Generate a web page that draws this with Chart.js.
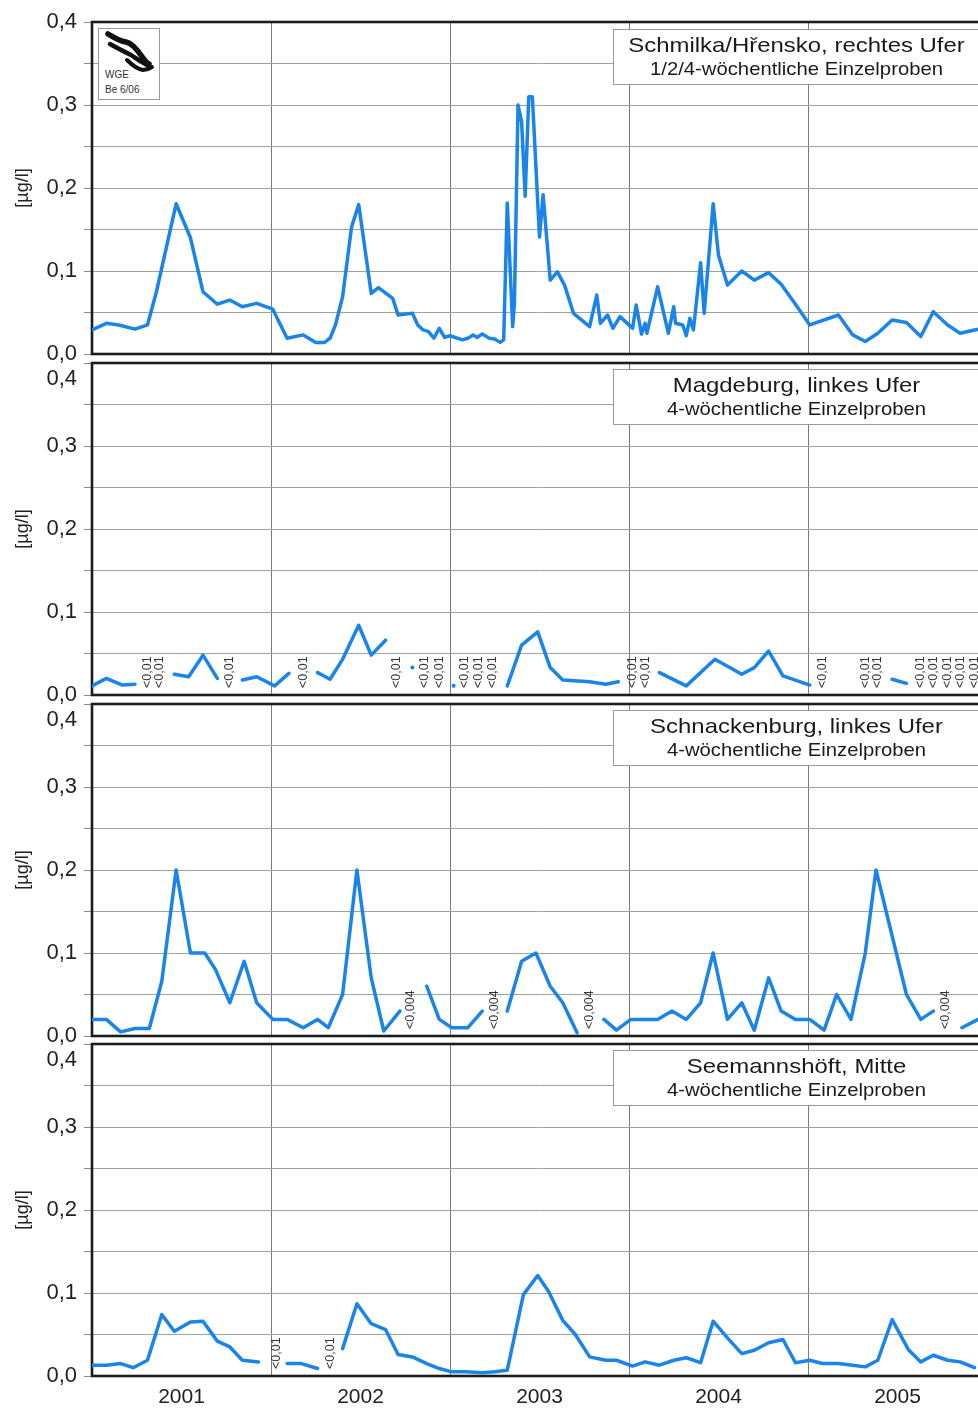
<!DOCTYPE html>
<html lang="de">
<head>
<meta charset="utf-8">
<title>Elbe – Einzelproben 2001–2005</title>
<script src="https://cdn.jsdelivr.net/npm/chart.js@4.4.1/dist/chart.umd.min.js"></script>
<style>
  html, body { margin: 0; padding: 0; background: #fff; overflow: hidden; }
  #page { position: relative; width: 1000px; height: 1410px; }
  #page canvas { position: absolute; left: 0; top: 0; }
  .station {
    position: absolute; left: 613px; width: 367px; height: 56px; box-sizing: border-box;
    border: 1px solid #9a9a9a; background: #fff; z-index: 2; text-align: center;
    font-family: 'Liberation Sans', Arial, sans-serif; color: #1a1a1a;
  }
  .station .name { font-size: 21px; line-height: 24px; margin-top: 3px; transform: scaleX(1.14); white-space: nowrap; }
  .station .mode { font-size: 17.8px; line-height: 22px; margin-top: 1px; transform: scaleX(1.14); white-space: nowrap; }
  #logo {
    position: absolute; left: 98px; top: 28px; width: 62px; height: 72px; box-sizing: border-box;
    border: 1px solid #9a9a9a; background: #fff; z-index: 2;
  }
</style>
</head>
<body>
<div id="page">
  <canvas id="p1" width="1000" height="1410"></canvas>
  <canvas id="p2" width="1000" height="1410"></canvas>
  <canvas id="p3" width="1000" height="1410"></canvas>
  <canvas id="p4" width="1000" height="1410"></canvas>

  <div id="logo">
    <svg width="60" height="70" viewBox="0 0 60 70">
      <g fill="none" stroke="#111" stroke-linecap="round" stroke-linejoin="round">
        <path d="M9 5 C14 8 20 12 27 13 C33 14 38 20 44 29 C46 32 48 34 50 35" stroke-width="5.5"/>
        <path d="M11 15 C18 19 26 23 32 26 C38 30 42 33 48 36" stroke-width="4.5"/>
        <path d="M28 31 C33 36 38 40 44 41 C47 41 50 40 53 38" stroke-width="4"/>
      </g>
      <text x="6" y="49" font-family="'Liberation Sans', Arial, sans-serif" font-size="10" fill="#333">WGE</text>
      <text x="6" y="64" font-family="'Liberation Sans', Arial, sans-serif" font-size="10" fill="#333">Be 6/06</text>
    </svg>
  </div>

  <div class="station" style="top:29px"><div class="name">Schmilka/Hřensko, rechtes Ufer</div><div class="mode">1/2/4-wöchentliche Einzelproben</div></div>
  <div class="station" style="top:369px"><div class="name">Magdeburg, linkes Ufer</div><div class="mode">4-wöchentliche Einzelproben</div></div>
  <div class="station" style="top:710px"><div class="name">Schnackenburg, linkes Ufer</div><div class="mode">4-wöchentliche Einzelproben</div></div>
  <div class="station" style="top:1050px"><div class="name">Seemannshöft, Mitte</div><div class="mode">4-wöchentliche Einzelproben</div></div>
</div>

<script>
// Axis labelling
const years = [2001, 2002, 2003, 2004, 2005];
const yTickLabels = ['0,0', '0,1', '0,2', '0,3', '0,4'];
const unitLabel = '[µg/l]';

// Schmilka/Hřensko – sampling date (decimal year) and concentration in µg/l
const schmilkaDates = [
  2001.00, 2001.08, 2001.15, 2001.24, 2001.31, 2001.36, 2001.47, 2001.55, 2001.62, 2001.70, 2001.77, 2001.84, 2001.92,
  2002.01, 2002.09, 2002.18, 2002.25, 2002.30, 2002.33, 2002.36, 2002.40, 2002.45, 2002.49, 2002.56, 2002.60, 2002.68,
  2002.71, 2002.79, 2002.82, 2002.85, 2002.88, 2002.91, 2002.94, 2002.97,
  2003.00, 2003.07, 2003.10, 2003.13, 2003.15, 2003.18, 2003.22, 2003.25, 2003.28, 2003.30, 2003.32, 2003.35, 2003.36,
  2003.38, 2003.40, 2003.42, 2003.44, 2003.46, 2003.50, 2003.52, 2003.56, 2003.60, 2003.64, 2003.69, 2003.78, 2003.82,
  2003.84, 2003.88, 2003.91, 2003.95,
  2004.01, 2004.02, 2004.04, 2004.07, 2004.09, 2004.10, 2004.16, 2004.22, 2004.25, 2004.26, 2004.30, 2004.32, 2004.34,
  2004.36, 2004.40, 2004.42, 2004.47, 2004.50, 2004.55, 2004.63, 2004.70, 2004.78, 2004.85, 2004.92,
  2005.01, 2005.17, 2005.25, 2005.32, 2005.39, 2005.47, 2005.55, 2005.63, 2005.70, 2005.78, 2005.85, 2005.93, 2005.99
];
const schmilkaValues = [
  0.029, 0.037, 0.035, 0.030, 0.035, 0.075, 0.181, 0.140, 0.075, 0.060, 0.065, 0.057, 0.061,
  0.054, 0.019, 0.023, 0.014, 0.014, 0.019, 0.035, 0.069, 0.153, 0.180, 0.073, 0.080, 0.067,
  0.047, 0.049, 0.035, 0.029, 0.027, 0.019, 0.031, 0.020,
  0.022, 0.017, 0.019, 0.023, 0.020, 0.024, 0.019, 0.018, 0.014, 0.017, 0.182, 0.033, 0.061,
  0.300, 0.280, 0.190, 0.310, 0.310, 0.141, 0.192, 0.089, 0.099, 0.083, 0.049, 0.033, 0.071,
  0.037, 0.047, 0.031, 0.045,
  0.033, 0.031, 0.059, 0.024, 0.037, 0.025, 0.081, 0.025, 0.057, 0.037, 0.035, 0.022, 0.043,
  0.029, 0.110, 0.049, 0.181, 0.119, 0.083, 0.100, 0.089, 0.098, 0.084, 0.063,
  0.035, 0.047, 0.023, 0.015, 0.025, 0.041, 0.038, 0.021, 0.051, 0.035, 0.025, 0.029, 0.031
];

// Magdeburg
const magdeburgDates = [
  2001.00, 2001.08, 2001.17, 2001.24, 2001.46, 2001.54, 2001.62, 2001.70, 2001.84, 2001.92,
  2002.02, 2002.10, 2002.26, 2002.33, 2002.40, 2002.49, 2002.56, 2002.64, 2002.79,
  2003.02, 2003.32, 2003.40, 2003.49, 2003.56, 2003.63, 2003.78, 2003.87, 2003.94,
  2004.17, 2004.32, 2004.48, 2004.63, 2004.70, 2004.78, 2004.86,
  2005.01, 2005.47, 2005.55
];
const magdeburgValues = [
  0.011, 0.020, 0.012, 0.013, 0.025, 0.022, 0.048, 0.020, 0.018, 0.022,
  0.011, 0.026, 0.027, 0.019, 0.043, 0.084, 0.048, 0.066, 0.033,
  0.011, 0.011, 0.060, 0.076, 0.033, 0.018, 0.016, 0.013, 0.016,
  0.027, 0.011, 0.043, 0.025, 0.033, 0.053, 0.023,
  0.012, 0.019, 0.014
];
const magdeburgBelowLimit = [
  2001.31, 2001.38, 2001.77, 2002.18, 2002.70, 2002.86, 2002.94, 2003.08, 2003.16, 2003.24,
  2004.02, 2004.09, 2005.08, 2005.32, 2005.39, 2005.63, 2005.70, 2005.78, 2005.85, 2005.93
];

// Schnackenburg
const schnackenburgDates = [
  2001.00, 2001.08, 2001.16, 2001.24, 2001.32, 2001.39, 2001.47, 2001.55, 2001.63, 2001.69, 2001.77, 2001.85, 2001.92,
  2002.01, 2002.09, 2002.18, 2002.26, 2002.32, 2002.40, 2002.48, 2002.56, 2002.63, 2002.72, 2002.87, 2002.94,
  2003.01, 2003.10, 2003.18, 2003.32, 2003.40, 2003.48, 2003.56, 2003.63, 2003.71, 2003.86, 2003.93,
  2004.01, 2004.09, 2004.16, 2004.24, 2004.32, 2004.40, 2004.47, 2004.55, 2004.63, 2004.70, 2004.78, 2004.85, 2004.93,
  2005.01, 2005.09, 2005.16, 2005.24, 2005.32, 2005.38, 2005.55, 2005.63, 2005.70, 2005.86, 2005.95
];
const schnackenburgValues = [
  0.020, 0.020, 0.005, 0.009, 0.009, 0.066, 0.200, 0.100, 0.100, 0.080, 0.040, 0.090, 0.040,
  0.020, 0.020, 0.010, 0.020, 0.010, 0.050, 0.200, 0.070, 0.006, 0.030, 0.060, 0.020,
  0.010, 0.010, 0.030, 0.030, 0.090, 0.100, 0.060, 0.040, 0.004, 0.020, 0.007,
  0.020, 0.020, 0.020, 0.030, 0.020, 0.040, 0.100, 0.020, 0.040, 0.007, 0.070, 0.030, 0.020,
  0.020, 0.007, 0.050, 0.020, 0.100, 0.200, 0.050, 0.020, 0.030, 0.010, 0.020
];
const schnackenburgBelowLimit = [2002.78, 2003.25, 2003.78, 2005.77];

// Seemannshöft
const seemannshoeftDates = [
  2001.00, 2001.08, 2001.16, 2001.23, 2001.31, 2001.39, 2001.46, 2001.55, 2001.62, 2001.70, 2001.77, 2001.84, 2001.93,
  2002.09, 2002.17, 2002.26, 2002.40, 2002.48, 2002.56, 2002.64, 2002.71, 2002.79, 2002.87, 2002.94,
  2003.01, 2003.09, 2003.18, 2003.25, 2003.32, 2003.41, 2003.49, 2003.55, 2003.63, 2003.70, 2003.78, 2003.87, 2003.93,
  2004.02, 2004.09, 2004.17, 2004.25, 2004.32, 2004.40, 2004.47, 2004.55, 2004.63, 2004.70, 2004.78, 2004.86, 2004.93,
  2005.01, 2005.08, 2005.17, 2005.25, 2005.32, 2005.39, 2005.47, 2005.56, 2005.63, 2005.70, 2005.78, 2005.85, 2005.93
];
const seemannshoeftValues = [
  0.013, 0.013, 0.015, 0.010, 0.019, 0.074, 0.054, 0.065, 0.066, 0.042, 0.035, 0.019, 0.017,
  0.015, 0.015, 0.009, 0.033, 0.087, 0.063, 0.056, 0.026, 0.023, 0.015, 0.009,
  0.005, 0.005, 0.004, 0.005, 0.007, 0.098, 0.121, 0.102, 0.067, 0.050, 0.023, 0.019, 0.019,
  0.012, 0.017, 0.013, 0.019, 0.022, 0.016, 0.066, 0.046, 0.027, 0.031, 0.040, 0.044, 0.016,
  0.019, 0.015, 0.015, 0.013, 0.011, 0.019, 0.068, 0.032, 0.017, 0.025, 0.019, 0.017, 0.010
];
const seemannshoeftBelowLimit = [2002.03, 2002.33];

const FONT = "'Liberation Sans', Arial, sans-serif";
const LINE_BLUE = '#1a84e8';
Chart.defaults.font.family = FONT;
Chart.defaults.color = '#222';

// Frame around each plot, "<limit" notes at censored samples, lowered top label
const panelDecor = {
  id: 'panelDecor',
  beforeDatasetsDraw(chart) {
    const { ctx, chartArea: a } = chart;
    ctx.save();
    ctx.strokeStyle = '#1c1c1c';
    ctx.lineWidth = 2.6;
    ctx.strokeRect(a.left, a.top, a.right - a.left, a.bottom - a.top);
    ctx.restore();
  },
  afterDatasetsDraw(chart, args, opts) {
    const { ctx, chartArea: a, scales } = chart;
    ctx.save();
    ctx.fillStyle = '#333';
    ctx.font = '12.5px ' + FONT;
    ctx.textAlign = 'left';
    ctx.textBaseline = 'middle';
    (opts.belowLimit || []).forEach(d => {
      const x = scales.x.getPixelForValue(d);
      ctx.save();
      ctx.translate(x, a.bottom - 7);
      ctx.rotate(-Math.PI / 2);
      ctx.fillText(opts.limitText, 0, 0);
      ctx.restore();
    });
    if (opts.lowerTopLabel) {
      ctx.fillStyle = '#222';
      ctx.font = '22px ' + FONT;
      ctx.textAlign = 'right';
      ctx.fillText(yTickLabels[yTickLabels.length - 1], a.left - 15, a.top + 16);
    }
    ctx.restore();
  }
};

function seriesPoints(dates, values, belowLimit) {
  const pts = dates.map((d, i) => ({ x: d, y: values[i] }));
  belowLimit.forEach(d => pts.push({ x: d, y: null }));
  return pts.sort((p, q) => p.x - q.x);
}

function isolatedRadius(ctx) {
  const data = ctx.dataset.data;
  const i = ctx.dataIndex;
  const prev = data[i - 1], next = data[i + 1];
  const alone = (!prev || prev.y === null) && (!next || next.y === null);
  return alone ? 2 : 0;
}

const panels = [
  { id: 'p1', top: 22,   bottom: 354,  dates: schmilkaDates,      values: schmilkaValues,      below: [],                      limit: '',       last: false },
  { id: 'p2', top: 363,  bottom: 695,  dates: magdeburgDates,     values: magdeburgValues,     below: magdeburgBelowLimit,     limit: '<0,01',  last: false },
  { id: 'p3', top: 704,  bottom: 1036, dates: schnackenburgDates, values: schnackenburgValues, below: schnackenburgBelowLimit, limit: '<0,004', last: false },
  { id: 'p4', top: 1044, bottom: 1376, dates: seemannshoeftDates, values: seemannshoeftValues, below: seemannshoeftBelowLimit, limit: '<0,01',  last: true }
];

panels.forEach((p, idx) => {
  const xAxisHeight = p.last ? 34 : 0;
  new Chart(document.getElementById(p.id), {
    type: 'line',
    data: {
      datasets: [{
        data: seriesPoints(p.dates, p.values, p.below),
        borderColor: LINE_BLUE,
        backgroundColor: LINE_BLUE,
        borderWidth: 3.5,
        borderJoinStyle: 'round',
        borderCapStyle: 'round',
        tension: 0,
        spanGaps: false,
        pointRadius: isolatedRadius,
        pointHoverRadius: 0,
        pointBorderWidth: 0,
        fill: false
      }]
    },
    options: {
      responsive: false,
      animation: false,
      events: [],
      layout: { padding: { left: 8, right: 13, top: p.top, bottom: 1410 - p.bottom - xAxisHeight } },
      plugins: {
        legend: { display: false },
        tooltip: { enabled: false },
        panelDecor: { belowLimit: p.below, limitText: p.limit, lowerTopLabel: idx > 0 }
      },
      scales: {
        x: {
          type: 'linear',
          min: years[0],
          max: years[years.length - 1] + 1,
          afterBuildTicks(scale) {
            const ticks = [];
            years.forEach(y => { ticks.push({ value: y }); ticks.push({ value: y + 0.5 }); });
            ticks.push({ value: years[years.length - 1] + 1 });
            scale.ticks = ticks;
          },
          afterFit(scale) { scale.height = xAxisHeight; },
          border: { display: false },
          grid: {
            drawTicks: false,
            lineWidth: 1,
            color: c => (c.tick && c.tick.value % 1 !== 0) ? 'rgba(0,0,0,0)' : '#7a7a7a'
          },
          ticks: {
            display: p.last,
            autoSkip: false,
            maxRotation: 0,
            padding: 9,
            color: '#222',
            font: { size: 21 },
            callback: v => (v % 1 === 0.5 ? String(v - 0.5) : '')
          }
        },
        y: {
          min: 0,
          max: 0.4,
          afterFit(scale) { scale.width = 84; },
          border: { display: false },
          grid: { color: '#a0a0a0', lineWidth: 1, tickLength: 8, tickColor: '#8a8a8a' },
          title: { display: true, text: unitLabel, color: '#222', font: { size: 18 }, padding: { top: 4, bottom: 0 } },
          ticks: {
            stepSize: 0.05,
            padding: 7,
            color: '#222',
            font: { size: 22 },
            callback(value) {
              const h = Math.round(value * 100);
              if (h % 10 !== 0) return '';
              if (idx > 0 && h === 40) return '';
              return yTickLabels[h / 10];
            }
          }
        }
      }
    },
    plugins: [panelDecor]
  });
});
</script>
</body>
</html>
